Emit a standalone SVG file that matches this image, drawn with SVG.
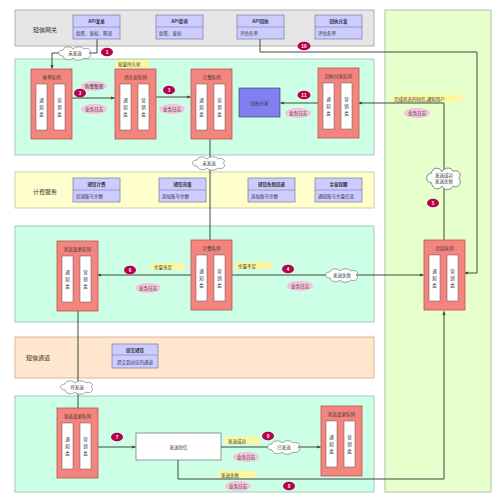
<svg xmlns="http://www.w3.org/2000/svg" xmlns:xlink="http://www.w3.org/1999/xlink" width="500" height="502" viewBox="0 0 500 502">
<style>
text{font-family:"Noto Sans CJK SC","Liberation Sans",sans-serif;fill:#333;}
.t5{font-size:5px;text-anchor:middle;dominant-baseline:central;}
.t4{font-size:4.5px;text-anchor:middle;dominant-baseline:central;}
.tl{font-size:4.5px;dominant-baseline:central;}
.lab{font-size:6px;text-anchor:middle;dominant-baseline:central;}
.b{font-weight:bold;}
.ln{fill:none;stroke:#3d4a3d;stroke-width:1;}
.q{fill:#f4847e;stroke:#b85450;stroke-width:0.8;}
.qi{fill:#fff;stroke:#555;stroke-width:0.5;}
.api{fill:#ccccff;stroke:#7777aa;stroke-width:0.7;}
.log{fill:#f5c2dc;stroke:none;}
.num{fill:#b8004d;}
.numt{font-size:4.5px;text-anchor:middle;dominant-baseline:central;fill:#fff;font-weight:bold;}
.note{fill:#fff7a0;stroke:none;}
.cloud{fill:#fff;stroke:#666;stroke-width:0.6;}
</style>
<defs>
<marker id="ah" viewBox="0 0 10 10" refX="9" refY="5" markerWidth="4" markerHeight="4" orient="auto" markerUnits="strokeWidth">
<path d="M0,1 L10,5 L0,9 Z" fill="#3d4a3d"/>
</marker>
<g id="qb">
<rect class="q" x="0" y="0" width="41" height="70"/>
<rect class="qi" x="5" y="15" width="11" height="46"/>
<rect class="qi" x="23" y="15" width="11" height="46"/>
<text class="t4" x="10.5" y="31">通</text><text class="t4" x="10.5" y="38">知</text><text class="t4" x="10.5" y="45">类</text>
<text class="t4" x="28.5" y="31">营</text><text class="t4" x="28.5" y="38">销</text><text class="t4" x="28.5" y="45">类</text>
</g>
<g id="apib">
<rect class="api" x="0" y="0" width="47" height="24"/>
<line x1="0" y1="12" x2="47" y2="12" stroke="#7777aa" stroke-width="0.6"/>
</g>
<path id="cl" class="cloud" d="M-12,3 C-18,3 -18,-3 -12,-3 C-11,-7 -4,-7 -2,-4 C1,-7 7,-7 9,-4 C13,-6 18,-2 14,0 C18,3 13,7 9,5 C6,8 0,8 -2,5 C-5,8 -11,7 -12,3 Z"/>
</defs>

<g id="lanes">
<rect x="15" y="10" width="359" height="36" fill="#e6e6e6" stroke="#a0a0a0" stroke-width="0.8"/>
<rect x="385" y="10" width="106" height="482" fill="#e6ffcc" stroke="#a3b392" stroke-width="0.8"/>
<rect x="15" y="59" width="359" height="96" fill="#ccffe6" stroke="#9bb8aa" stroke-width="0.8"/>
<rect x="15" y="172" width="359" height="36" fill="#ffffcc" stroke="#c2c29a" stroke-width="0.8"/>
<rect x="15" y="226" width="359" height="96" fill="#ccffe6" stroke="#9bb8aa" stroke-width="0.8"/>
<rect x="15" y="337" width="359" height="41" fill="#ffe6cc" stroke="#c8aa8c" stroke-width="0.8"/>
<rect x="15" y="396" width="359" height="96" fill="#ccffe6" stroke="#9bb8aa" stroke-width="0.8"/>
<text class="lab" x="45" y="29">短信网关</text>
<text class="lab" x="45" y="191">计费服务</text>
<text class="lab" x="38" y="357">短信通道</text>
</g>

<g id="connectors">
<path class="ln" d="M97,39 V53 H52 V68.5" marker-end="url(#ah)"/>
<path class="ln" d="M72,98 H114.5" marker-end="url(#ah)"/>
<path class="ln" d="M156,97 H190.5" marker-end="url(#ah)"/>
<path class="ln" d="M318,103 H280.5" marker-end="url(#ah)"/>
<path class="ln" d="M444,240 V103 H358.5" marker-end="url(#ah)"/>
<path class="ln" d="M260,39 V52 H477 V273 H464.5" marker-end="url(#ah)"/>
<path class="ln" d="M210,138 V240"/>
<path class="ln" d="M191,275 H97.5" marker-end="url(#ah)"/>
<path class="ln" d="M230,275 H423.5" marker-end="url(#ah)"/>
<path class="ln" d="M78,311 V408"/>
<path class="ln" d="M97,447 H135.5" marker-end="url(#ah)"/>
<path class="ln" d="M221,447 H320.5" marker-end="url(#ah)"/>
<path class="ln" d="M178,460 V479 H444 V311.5" marker-end="url(#ah)"/>
</g>

<g id="api-send"><use xlink:href="#apib" x="73" y="15"/><text class="t4 b" x="96.5" y="21">API发单</text><text class="tl" x="76" y="33">验签、鉴权、限流</text></g>
<g id="api-query"><use xlink:href="#apib" x="156" y="15"/><text class="t4 b" x="179.5" y="21">API查询</text><text class="tl" x="159" y="33">验签、鉴权</text></g>
<g id="api-receipt"><use xlink:href="#apib" x="237" y="15"/><text class="t4 b" x="260.5" y="21">API回执</text><text class="tl" x="240" y="33">评估名单</text></g>
<g id="receipt-dispatch-api"><use xlink:href="#apib" x="315" y="15"/><text class="t4 b" x="338.5" y="21">回执分发</text><text class="tl" x="318" y="33">评估名单</text></g>

<g id="bill-charge"><use xlink:href="#apib" x="73" y="178"/><text class="t4 b" x="96.5" y="184">短信计费</text><text class="tl" x="76" y="196">扣减账号余额</text></g>
<g id="bill-recharge"><use xlink:href="#apib" x="159" y="178"/><text class="t4 b" x="182.5" y="184">短信充值</text><text class="tl" x="162" y="196">添加账号余额</text></g>
<g id="bill-rollback"><use xlink:href="#apib" x="248" y="178"/><text class="t4 b" x="271.5" y="184">短信失败回退</text><text class="tl" x="251" y="196">添加账号余额</text></g>
<g id="bill-remind"><use xlink:href="#apib" x="315" y="178"/><text class="t4 b" x="338.5" y="184">余量提醒</text><text class="tl" x="318" y="196">通知账号余量信息</text></g>

<g id="channel-submit"><rect class="api" x="112" y="344" width="46" height="24"/><line x1="112" y1="355" x2="158" y2="355" stroke="#7777aa" stroke-width="0.6"/><text class="t4 b" x="135" y="349.5">提交短信</text><text class="t4" x="135" y="361.5">提交到对应的通道</text></g>

<g id="q-receive"><use xlink:href="#qb" x="31" y="69"/><text class="t4" x="51.5" y="77">收单队列</text></g>
<g id="q-persist"><use xlink:href="#qb" x="115" y="69"/><text class="t4" x="135.5" y="77">持久化队列</text></g>
<g id="q-bill1"><use xlink:href="#qb" x="191" y="69"/><text class="t4" x="211.5" y="77">计费队列</text></g>
<g id="q-receipt"><use xlink:href="#qb" x="318" y="68"/><text class="t4" x="338.5" y="76">回执分发队列</text></g>
<g id="q-status1"><use xlink:href="#qb" x="57" y="241"/><text class="t4" x="77.5" y="249">状态变更队列</text></g>
<g id="q-bill2"><use xlink:href="#qb" x="191" y="240"/><text class="t4" x="211.5" y="248">计费队列</text></g>
<g id="q-finish"><use xlink:href="#qb" x="424" y="240"/><text class="t4" x="444.5" y="248">完结队列</text></g>
<g id="q-status2"><use xlink:href="#qb" x="57" y="408"/><text class="t4" x="77.5" y="416">状态变更队列</text></g>
<g id="q-status3"><use xlink:href="#qb" x="321" y="406"/><text class="t4" x="341.5" y="414">状态变更队列</text></g>

<g id="receipt-dispatch"><rect x="239" y="88" width="41" height="29" fill="#8080f0" stroke="#333" stroke-width="0.6"/><text class="t4" x="259.5" y="102.5">回执分发</text></g>
<g id="send-sms"><rect x="136" y="433" width="85" height="27" fill="#fff" stroke="#555" stroke-width="0.6"/><text class="t4" x="178.5" y="446.5">发送短信</text></g>

<g id="note-batch"><rect class="note" x="116" y="60" width="33" height="8"/><text class="tl" x="118" y="64">批量持久化</text></g>
<g id="note-finish"><rect class="note" x="392" y="95" width="70" height="7"/><text class="tl" x="394" y="98.5">完成状态的短信,通知用户</text></g>
<g id="note-enough"><rect class="note" x="151" y="263" width="33" height="7"/><text class="tl" x="154" y="266.5">余量充足</text></g>
<g id="note-short"><rect class="note" x="235" y="262" width="36" height="7"/><text class="tl" x="238" y="265.5">余量不足</text></g>
<g id="note-ok"><rect class="note" x="225" y="437" width="35" height="7"/><text class="tl" x="228" y="440.5">发送成功</text></g>
<g id="note-fail"><rect class="note" x="218" y="471" width="37" height="7"/><text class="tl" x="221" y="474.5">发送失败</text></g>

<g id="log-dedupe"><ellipse class="log" cx="94" cy="86" rx="13" ry="5"/><text class="t4" x="94" y="86">防重整理</text></g>
<g id="log1"><ellipse class="log" cx="94" cy="109" rx="13" ry="5"/><text class="t4" x="94" y="109">业务日志</text></g>
<g id="log2"><ellipse class="log" cx="172" cy="109" rx="13" ry="5"/><text class="t4" x="172" y="109">业务日志</text></g>
<g id="log3"><ellipse class="log" cx="298" cy="113" rx="13" ry="5"/><text class="t4" x="298" y="113">业务日志</text></g>
<g id="log4"><ellipse class="log" cx="417" cy="113" rx="13" ry="5"/><text class="t4" x="417" y="113">业务日志</text></g>
<g id="log5"><ellipse class="log" cx="148" cy="288" rx="13" ry="5"/><text class="t4" x="148" y="288">业务日志</text></g>
<g id="log6"><ellipse class="log" cx="300" cy="286" rx="13" ry="5"/><text class="t4" x="300" y="286">业务日志</text></g>
<g id="log7"><ellipse class="log" cx="246" cy="457" rx="13" ry="5"/><text class="t4" x="246" y="457">业务日志</text></g>
<g id="log8"><ellipse class="log" cx="238" cy="486" rx="13" ry="5"/><text class="t4" x="238" y="486">业务日志</text></g>

<g id="cloud-unsent1"><use xlink:href="#cl" transform="translate(75,53)"/><text class="t4" x="75" y="53">未发送</text></g>
<g id="cloud-unsent2"><use xlink:href="#cl" transform="translate(209,163)"/><text class="t4" x="209" y="163">未发送</text></g>
<g id="cloud-result"><use xlink:href="#cl" transform="translate(444,178) scale(1.05,1.6)"/><text class="t4" x="444" y="175">发送成功</text><text class="t4" x="444" y="181">发送失败</text></g>
<g id="cloud-fail"><use xlink:href="#cl" transform="translate(342,275)"/><text class="t4" x="342" y="275">发送失败</text></g>
<g id="cloud-pending"><use xlink:href="#cl" transform="translate(77,387)"/><text class="t4" x="77" y="387">待发送</text></g>
<g id="cloud-sent"><use xlink:href="#cl" transform="translate(284,447)"/><text class="t4" x="284" y="447">已发送</text></g>

<g id="n1"><ellipse class="num" cx="107" cy="52" rx="6" ry="4.3"/><text class="numt" x="107" y="52">1</text></g>
<g id="n2"><ellipse class="num" cx="80" cy="93" rx="6" ry="4.3"/><text class="numt" x="80" y="93">2</text></g>
<g id="n3"><ellipse class="num" cx="169" cy="90" rx="6" ry="4.3"/><text class="numt" x="169" y="90">3</text></g>
<g id="n4"><ellipse class="num" cx="288" cy="269" rx="6" ry="4.3"/><text class="numt" x="288" y="269">4</text></g>
<g id="n5"><ellipse class="num" cx="433" cy="203" rx="6" ry="4.3"/><text class="numt" x="433" y="203">5</text></g>
<g id="n6"><ellipse class="num" cx="130" cy="270" rx="6" ry="4.3"/><text class="numt" x="130" y="270">6</text></g>
<g id="n7"><ellipse class="num" cx="117" cy="437" rx="6" ry="4.3"/><text class="numt" x="117" y="437">7</text></g>
<g id="n8"><ellipse class="num" cx="289" cy="486" rx="6" ry="4.3"/><text class="numt" x="289" y="486">8</text></g>
<g id="n9"><ellipse class="num" cx="268" cy="436" rx="6" ry="4.3"/><text class="numt" x="268" y="436">9</text></g>
<g id="n10"><ellipse class="num" cx="304" cy="46" rx="6.5" ry="4.3"/><text class="numt" x="304" y="46">10</text></g>
<g id="n11"><ellipse class="num" cx="304" cy="95" rx="6.5" ry="4.3"/><text class="numt" x="304" y="95">11</text></g>
</svg>
